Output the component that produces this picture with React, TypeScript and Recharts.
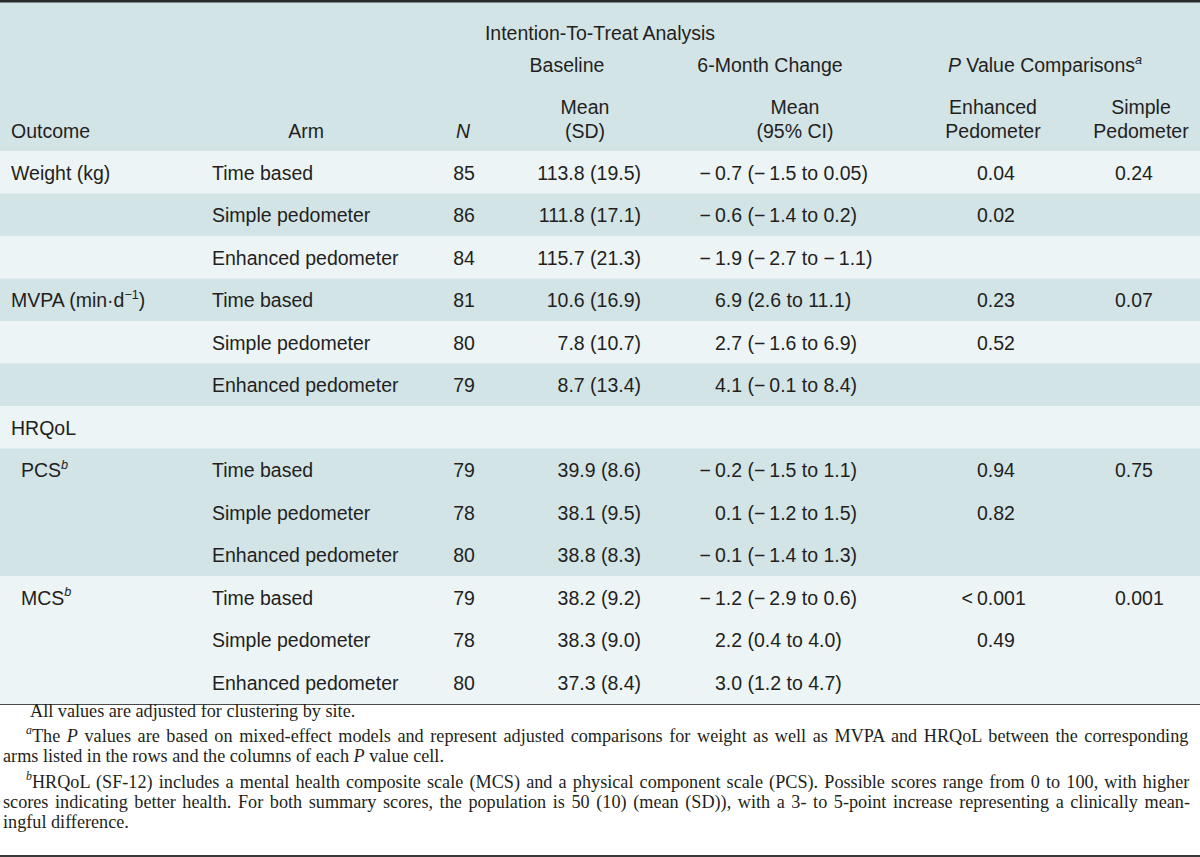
import { BarChart, Bar, XAxis, YAxis, Customized } from 'recharts'

// table body, one entry per row
const outcomeLabels = ['Weight (kg)', '', '', 'MVPA (min·d^−1^)', '', '', 'HRQoL', 'PCS^*b*^', '', '', 'MCS^*b*^', '', '']
const outcomeLevels = [0, 0, 0, 0, 0, 0, 0, 1, 1, 1, 1, 1, 1]
const arms = [
  'Time based', 'Simple pedometer', 'Enhanced pedometer',
  'Time based', 'Simple pedometer', 'Enhanced pedometer',
  '',
  'Time based', 'Simple pedometer', 'Enhanced pedometer',
  'Time based', 'Simple pedometer', 'Enhanced pedometer',
]
const nCounts = [85, 86, 84, 81, 80, 79, null, 79, 78, 80, 79, 78, 80]
const baselineMeans = [
  '113.8 (19.5)', '111.8 (17.1)', '115.7 (21.3)',
  '10.6 (16.9)', '7.8 (10.7)', '8.7 (13.4)',
  '',
  '39.9 (8.6)', '38.1 (9.5)', '38.8 (8.3)',
  '38.2 (9.2)', '38.3 (9.0)', '37.3 (8.4)',
]
const changes = [
  '−0.7 (−1.5 to 0.05)', '−0.6 (−1.4 to 0.2)', '−1.9 (−2.7 to −1.1)',
  '6.9 (2.6 to 11.1)', '2.7 (−1.6 to 6.9)', '4.1 (−0.1 to 8.4)',
  '',
  '−0.2 (−1.5 to 1.1)', '0.1 (−1.2 to 1.5)', '−0.1 (−1.4 to 1.3)',
  '−1.2 (−2.9 to 0.6)', '2.2 (0.4 to 4.0)', '3.0 (1.2 to 4.7)',
]
const pEnhanced = ['0.04', '0.02', '', '0.23', '0.52', '', '', '0.94', '0.82', '', '<0.001', '0.49', '']
const pSimple = ['0.24', '', '', '0.07', '', '', '', '0.75', '', '', '0.001', '', '']
const rowShades = [0, 1, 0, 1, 0, 1, 0, 1, 1, 1, 0, 0, 0]

// footnotes: [text, justified]
const footnotes: [string, boolean][] = [
  ['All values are adjusted for clustering by site.', false],
  ['^*a*^The *P* values are based on mixed-effect models and represent adjusted comparisons for weight as well as MVPA and HRQoL between the corresponding', true],
  ['arms listed in the rows and the columns of each *P* value cell.', false],
  ['^*b*^HRQoL (SF-12) includes a mental health composite scale (MCS) and a physical component scale (PCS). Possible scores range from 0 to 100, with higher', true],
  ['scores indicating better health. For both summary scores, the population is 50 (10) (mean (SD)), with a 3- to 5-point increase representing a clinically mean-', true],
  ['ingful difference.', false],
]

const rows = arms.map((arm, i) => ({
  row: String(i),
  span: 1,
  outcome: outcomeLabels[i],
  level: outcomeLevels[i],
  arm,
  n: nCounts[i],
  baseline: baselineMeans[i],
  change: changes[i],
  pEnh: pEnhanced[i],
  pSimp: pSimple[i],
  shade: rowShades[i],
}))

const SANS = "'Liberation Sans', Arial, Helvetica, sans-serif"
const SERIF = "'Liberation Serif', 'Times New Roman', serif"
const INK = '#231f20'
const DARK = '#d3e4e7'
const LIGHT = '#edf4f6'
const FS = 19.5
const NOTE_FS = 18.2

type Run = { t: string; sup: boolean; it: boolean }

// '^' toggles superscript, '*' toggles italic
function parse(src: string): Run[] {
  const runs: Run[] = []
  let sup = false
  let it = false
  let buf = ''
  for (const ch of src) {
    if (ch === '^' || ch === '*') {
      if (buf) runs.push({ t: buf, sup, it })
      buf = ''
      if (ch === '^') sup = !sup
      else it = !it
    } else buf += ch
  }
  if (buf) runs.push({ t: buf, sup, it })
  return runs
}

function rich(src: string, size: number) {
  let shift = 0
  return parse(src).map((r, i) => {
    const target = r.sup ? -0.42 * size : 0
    const dy = target - shift
    shift = target
    return (
      <tspan key={i} dy={dy || undefined} fontSize={r.sup ? size * 0.65 : undefined} fontStyle={r.it ? 'italic' : undefined}>
        {r.t}
      </tspan>
    )
  })
}

let ctx: CanvasRenderingContext2D | null = null
// word spacing needed to stretch a line to the given width
function wordSpacing(src: string, size: number, family: string, target: number) {
  if (!ctx) ctx = document.createElement('canvas').getContext('2d')
  if (!ctx) return 0
  let w = 0
  let spaces = 0
  for (const r of parse(src)) {
    ctx.font = `${r.it ? 'italic ' : ''}${r.sup ? size * 0.65 : size}px ${family}`
    w += ctx.measureText(r.t).width
    spaces += (r.t.match(/ /g) || []).length
  }
  return spaces ? (target - w) / spaces : 0
}

const spaced = (s: string) => s.replace(/−/g, '−\u2009').replace(/</g, '<\u2009')

// value with a hanging sign, digits start at x
function Hanging({ x, y, value }: { x: number; y: number; value: string }) {
  if (!value) return null
  const m = /^([−<])(.*)$/.exec(value)
  return (
    <g>
      {m && (
        <text x={x - 4} y={y} textAnchor="end">
          {m[1]}
        </text>
      )}
      <text x={x} y={y}>
        {spaced(m ? m[2] : value)}
      </text>
    </g>
  )
}

function TableRow(props: any) {
  const { x, y, width, height, payload } = props
  const ty = y + height / 2 + 7
  return (
    <g fontFamily={SANS} fontSize={FS} fill={INK}>
      <rect x={x} y={y} width={width} height={height} fill={payload.shade ? DARK : LIGHT} />
      {payload.outcome && (
        <text x={payload.level ? 21 : 11} y={ty}>
          {rich(payload.outcome, FS)}
        </text>
      )}
      <text x={212} y={ty}>{payload.arm}</text>
      {payload.n != null && (
        <text x={464} y={ty} textAnchor="middle">
          {payload.n}
        </text>
      )}
      <text x={641} y={ty} textAnchor="end">{payload.baseline}</text>
      <Hanging x={715} y={ty} value={payload.change} />
      <Hanging x={977} y={ty} value={payload.pEnh} />
      <Hanging x={1115} y={ty} value={payload.pSimp} />
    </g>
  )
}

function Header() {
  const t = (x: number, y: number, s: string, anchor = 'middle') => (
    <text x={x} y={y + 7} textAnchor={anchor}>
      {rich(s, FS)}
    </text>
  )
  return (
    <g fontFamily={SANS} fontSize={FS} fill={INK}>
      <rect x={0} y={2} width={1200} height={149} fill={DARK} />
      <rect x={0} y={0} width={1200} height={2.5} fill="#2a2a2a" />
      {t(600, 33, 'Intention-To-Treat Analysis')}
      {t(567, 65, 'Baseline')}
      {t(770, 65, '6-Month Change')}
      {t(1045, 65, '*P* Value Comparisons^*a*^')}
      {t(585, 107, 'Mean')}
      {t(585, 131, '(SD)')}
      {t(795, 107, 'Mean')}
      {t(795, 131, '(95% CI)')}
      {t(993, 107, 'Enhanced')}
      {t(993, 131, 'Pedometer')}
      {t(1141, 107, 'Simple')}
      {t(1141, 131, 'Pedometer')}
      {t(11, 131, 'Outcome', 'start')}
      {t(306, 131, 'Arm')}
      {t(463, 131, '*N*')}
    </g>
  )
}

function Footer() {
  const baselines = [717, 742, 762, 788, 808, 828]
  return (
    <g fontFamily={SERIF} fontSize={NOTE_FS} fill={INK}>
      <rect x={0} y={703} width={1200} height={2} fill="#4a4a4a" />
      {footnotes.map(([line, justify], i) => {
        const x0 = line.startsWith('^') ? 26 : i === 0 ? 30 : 3
        const ws = justify ? wordSpacing(line, NOTE_FS, SERIF, 1190 - x0) : 0
        return (
          <text key={i} x={x0} y={baselines[i]} style={ws ? { wordSpacing: `${ws}px` } : undefined}>
            {rich(line, NOTE_FS)}
          </text>
        )
      })}
      <rect x={0} y={855} width={1200} height={2} fill="#3a3a3a" />
    </g>
  )
}

export default function App() {
  return (
    <div style={{ position: 'absolute', left: 0, top: 0, width: 1200, height: 857, background: '#fff' }}>
      <BarChart
        width={1200}
        height={857}
        data={rows}
        layout="vertical"
        margin={{ top: 151, right: 0, bottom: 153.5, left: 0 }}
        barCategoryGap={0}
        barGap={0}
      >
        <XAxis type="number" domain={[0, 1]} hide />
        <YAxis type="category" dataKey="row" hide />
        <Customized component={Header} />
        <Bar dataKey="span" isAnimationActive={false} shape={TableRow} />
        <Customized component={Footer} />
      </BarChart>
    </div>
  )
}
